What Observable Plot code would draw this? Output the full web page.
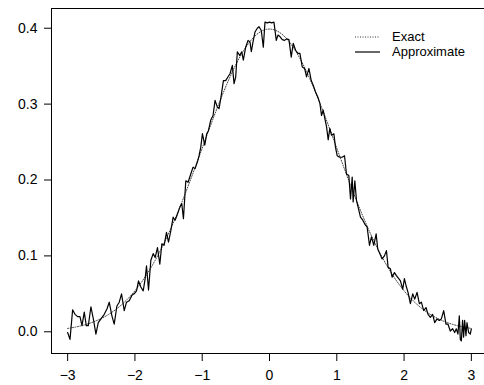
<!DOCTYPE html>
<html>
<head>
<meta charset="utf-8">
<script src="https://cdn.jsdelivr.net/npm/d3@7"></script>
<script src="https://cdn.jsdelivr.net/npm/@observablehq/plot@0.6"></script>
<style>
  html, body { margin: 0; padding: 0; background: #fff; overflow: hidden; }
  #wrap { position: relative; width: 484px; height: 385px; }
  #legend { position: absolute; left: 353px; top: 29px; font: 13px "Liberation Sans", Arial, sans-serif; color: #000; }
  #legend .row { display: flex; align-items: center; height: 15px; }
  #legend svg { width: 30px; height: 15px; margin-right: 9px; }
</style>
</head>
<body>
<div id="wrap">
  <div id="chart"></div>
  <div id="legend">
    <div class="row"><svg><line x1="2" x2="27" y1="8" y2="8" stroke="#333" stroke-width="1" stroke-dasharray="1,1.5"/></svg><span>Exact</span></div>
    <div class="row"><svg><line x1="2" x2="27" y1="8" y2="8" stroke="#000" stroke-width="1.2"/></svg><span>Approximate</span></div>
  </div>
</div>
<script>
// Exact standard normal density, tabulated
const exactX = [-3.0,-2.8,-2.6,-2.4,-2.2,-2.0,-1.8,-1.6,-1.4,-1.2,-1.0,-0.8,-0.6,-0.4,-0.2,0.0,0.2,0.4,0.6,0.8,1.0,1.2,1.4,1.6,1.8,2.0,2.2,2.4,2.6,2.8,3.0];
const exactY = [0.0044,0.0079,0.0136,0.0224,0.0355,0.0540,0.0790,0.1109,0.1497,0.1942,0.2420,0.2897,0.3332,0.3683,0.3910,0.3989,0.3910,0.3683,0.3332,0.2897,0.2420,0.1942,0.1497,0.1109,0.0790,0.0540,0.0355,0.0224,0.0136,0.0079,0.0044];

// Approximate density
const approxX = [-3.000,-2.965,-2.926,-2.891,-2.852,-2.817,-2.787,-2.753,-2.723,-2.693,-2.654,-2.614,-2.580,-2.545,-2.505,-2.456,-2.416,-2.382,-2.342,-2.308,-2.268,-2.233,-2.199,-2.159,-2.125,-2.085,-2.045,-2.011,
-1.976,-1.947,-1.912,-1.877,-1.848,-1.828,-1.798,-1.764,-1.729,-1.699,-1.665,-1.630,-1.600,-1.566,-1.531,-1.501,-1.467,-1.432,-1.403,-1.368,-1.333,-1.304,-1.279,-1.244,-1.210,-1.170,-1.136,-1.106,-1.071,-1.047,-1.022,
-0.997,-0.962,-0.933,-0.908,-0.873,-0.839,-0.809,-0.775,-0.750,-0.725,-0.685,-0.651,-0.616,-0.587,-0.552,-0.527,-0.502,-0.478,-0.443,-0.413,-0.389,-0.354,-0.319,-0.290,-0.270,-0.245,-0.216,-0.181,-0.156,-0.122,-0.092,-0.067,-0.033,
0.002,0.032,0.066,0.101,0.126,0.155,0.190,0.225,0.254,0.289,0.323,0.353,0.388,0.422,0.452,0.487,0.521,0.551,0.586,0.620,0.650,0.684,0.719,0.749,0.773,0.798,0.823,0.848,0.872,0.897,0.922,0.957,0.981,
1.006,1.041,1.080,1.115,1.144,1.179,1.204,1.229,1.243,1.268,1.293,1.318,1.352,1.387,1.416,1.451,1.486,1.515,1.550,1.585,1.609,1.639,1.674,1.708,1.738,1.763,1.797,1.822,1.857,1.886,1.921,1.946,1.980,
2.005,2.035,2.059,2.094,2.129,2.158,2.193,2.227,2.257,2.292,2.326,2.356,2.391,2.425,2.455,2.490,2.524,2.554,2.589,2.623,2.653,2.687,2.722,2.752,2.776,2.801,2.821,2.836,2.851,2.870,2.885,2.900,2.920,2.935,2.960,2.984,3.000];
const approxY = [-0.001,-0.010,0.029,0.023,0.020,0.020,0.008,0.026,0.008,0.008,0.033,0.015,-0.003,0.012,0.017,0.023,0.030,0.039,0.021,0.010,0.034,0.039,0.050,0.028,0.039,0.041,0.048,0.050,
0.054,0.067,0.059,0.054,0.070,0.087,0.055,0.094,0.103,0.098,0.111,0.089,0.116,0.114,0.131,0.118,0.133,0.151,0.147,0.155,0.164,0.169,0.149,0.199,0.197,0.208,0.217,0.215,0.224,0.232,0.243,
0.261,0.246,0.261,0.265,0.279,0.285,0.305,0.296,0.294,0.307,0.331,0.331,0.336,0.340,0.351,0.327,0.336,0.369,0.364,0.369,0.358,0.375,0.384,0.382,0.369,0.382,0.395,0.400,0.402,0.397,0.375,0.408,0.407,
0.408,0.407,0.408,0.384,0.391,0.389,0.385,0.384,0.386,0.385,0.362,0.380,0.371,0.367,0.367,0.349,0.347,0.336,0.347,0.331,0.325,0.316,0.309,0.301,0.285,0.292,0.281,0.270,0.253,0.268,0.259,0.261,0.243,
0.232,0.230,0.230,0.232,0.208,0.206,0.175,0.204,0.171,0.199,0.173,0.164,0.151,0.147,0.142,0.138,0.114,0.125,0.114,0.129,0.109,0.103,0.096,0.100,0.107,0.085,0.083,0.072,0.078,0.074,0.070,0.067,0.056,
0.070,0.059,0.052,0.037,0.050,0.043,0.052,0.037,0.039,0.028,0.032,0.023,0.019,0.023,0.012,0.017,0.015,0.017,0.028,0.010,0.010,0.001,0.004,-0.001,0.004,-0.003,0.021,-0.010,-0.012,0.015,-0.007,0.015,-0.005,0.012,-0.001,-0.003,0.004];

const xTicks = [-3,-2,-1,0,1,2,3];
const yTicks = [0,0.1,0.2,0.3,0.4];

const exact = exactX.map((x, i) => ({x, y: exactY[i]}));
const approx = approxX.map((x, i) => ({x, y: approxY[i]}));

const xFmt = d => d < 0 ? "\u2212" + Math.abs(d) : String(d);

const chart = Plot.plot({
  width: 484,
  height: 385,
  marginLeft: 51,
  marginRight: -3,
  marginTop: 8,
  marginBottom: 32,
  style: {fontFamily: '"Liberation Sans", Arial, sans-serif', fontSize: "14px", background: "#fff", color: "#000"},
  x: {domain: [-3.24, 3.24], label: null},
  y: {domain: [-0.0286, 0.426], label: null},
  marks: [
    Plot.frame({stroke: "#000", strokeWidth: 1}),
    Plot.line(exact, {x: "x", y: "y", curve: "natural", stroke: "#444", strokeWidth: 1, strokeDasharray: "1,1.5"}),
    Plot.line(approx, {x: "x", y: "y", stroke: "#000", strokeWidth: 1.2}),
    Plot.axisX({ticks: xTicks, tickSize: 8, tickPadding: 9, anchor: "bottom", label: null, fontSize: 14, tickFormat: xFmt}),
    Plot.axisY({ticks: yTicks, tickSize: 7, tickPadding: 7, anchor: "left", label: null, fontSize: 14, tickFormat: d3.format(".1f")})
  ]
});
document.getElementById("chart").appendChild(chart);
</script>
</body>
</html>
